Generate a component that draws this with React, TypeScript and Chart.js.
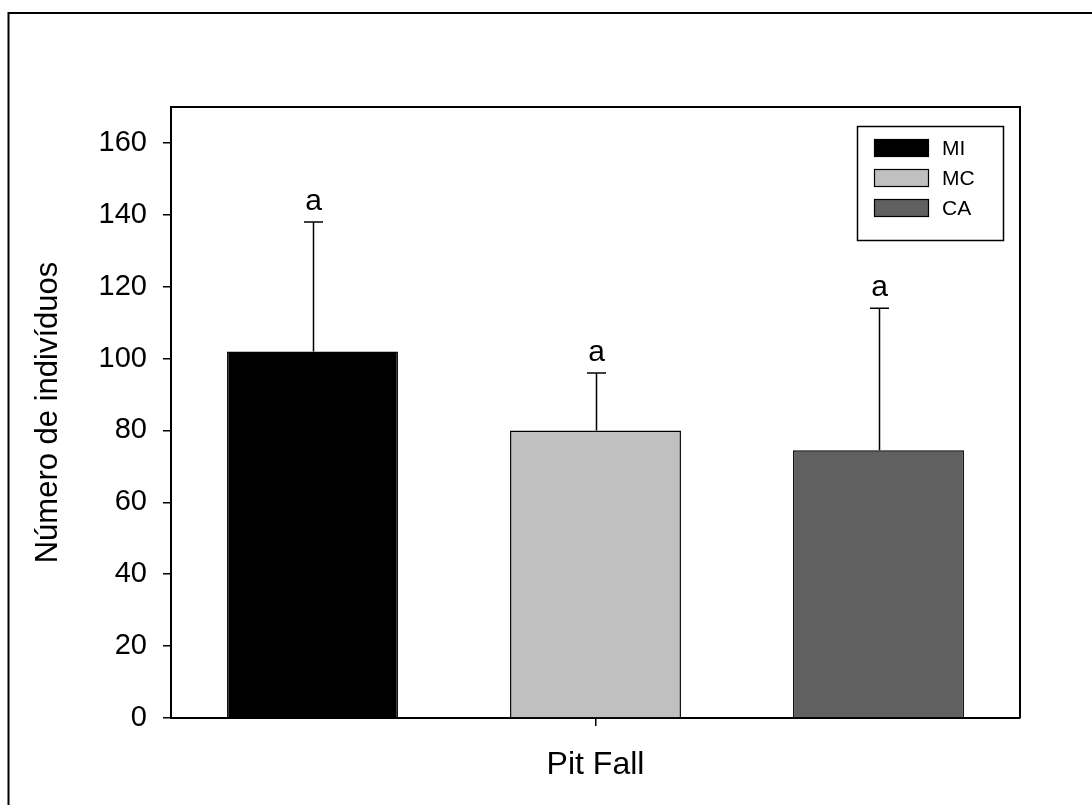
import React, { useEffect, useRef } from "react";
import { Chart, registerables } from "chart.js";

Chart.register(...registerables);

// ---- data ----
const categories = ["Pit Fall"];
const seriesLabels = ["MI", "MC", "CA"];
const seriesMeans = [102, 80, 74.5];
const seriesUpperErrors = [36, 16, 39.5];
const significanceLetters = ["a", "a", "a"];
const seriesColors = ["#000000", "#c0c0c0", "#606060"];
const yTickValues = [0, 20, 40, 60, 80, 100, 120, 140, 160];
const yAxisTitle = "Número de indivíduos";

const FONT = "'Liberation Sans', Arial, Helvetica, sans-serif";

const decorPlugin = {
  id: "decor",
  afterDatasetsDraw(chart: any) {
    const ctx = chart.ctx;
    const ys = chart.scales.y;
    const area = chart.chartArea;
    ctx.save();
    // error bars + letters
    chart.data.datasets.forEach((ds: any, i: number) => {
      const meta = chart.getDatasetMeta(i);
      meta.data.forEach((bar: any, j: number) => {
        const v = ds.data[j];
        const err = ds.upperErrors[j];
        const yTop = ys.getPixelForValue(v + err);
        const x = Math.round(bar.x) + 0.5;
        ctx.strokeStyle = "#000";
        ctx.lineWidth = 1.5;
        ctx.beginPath();
        ctx.moveTo(x, bar.y);
        ctx.lineTo(x, yTop);
        ctx.moveTo(x - 9.5, yTop);
        ctx.lineTo(x + 9.5, yTop);
        ctx.stroke();
        ctx.fillStyle = "#000";
        ctx.font = `30px ${FONT}`;
        ctx.textAlign = "center";
        ctx.textBaseline = "alphabetic";
        ctx.fillText(ds.letters[j], x, yTop - 12);
      });
    });
    // top and right frame
    ctx.strokeStyle = "#000";
    ctx.lineWidth = 2;
    ctx.beginPath();
    ctx.moveTo(area.left, area.top);
    ctx.lineTo(area.right, area.top);
    ctx.lineTo(area.right, area.bottom);
    ctx.stroke();
    // legend
    const lx = 857, ly = 126, lw = 146, lh = 114;
    ctx.lineWidth = 1.5;
    ctx.fillStyle = "#fff";
    ctx.fillRect(lx, ly, lw, lh);
    ctx.strokeRect(lx + 0.5, ly + 0.5, lw, lh);
    chart.data.datasets.forEach((ds: any, i: number) => {
      const sy = 139 + i * 30;
      ctx.fillStyle = ds.backgroundColor;
      ctx.fillRect(874, sy, 55, 18);
      ctx.strokeStyle = "#000";
      ctx.lineWidth = 1.2;
      ctx.strokeRect(874.5, sy + 0.5, 54, 17);
      ctx.fillStyle = "#000";
      ctx.font = `21px ${FONT}`;
      ctx.textAlign = "left";
      ctx.textBaseline = "middle";
      ctx.fillText(ds.label, 942, sy + 10);
    });
    // outer frame
    ctx.lineWidth = 2;
    ctx.beginPath();
    ctx.moveTo(8.5, chart.height);
    ctx.lineTo(8.5, 13);
    ctx.lineTo(chart.width, 13);
    ctx.stroke();
    ctx.restore();
  },
};

export default function App() {
  const ref = useRef<HTMLCanvasElement | null>(null);
  useEffect(() => {
    if (!ref.current) return;
    const chart = new Chart(ref.current, {
      type: "bar",
      data: {
        labels: categories,
        datasets: seriesLabels.map((label, i) => ({
          label,
          data: [seriesMeans[i]],
          upperErrors: [seriesUpperErrors[i]],
          letters: [significanceLetters[i]],
          backgroundColor: seriesColors[i],
          borderColor: "#000",
          borderWidth: 1.5,
          categoryPercentage: 1.0,
          barPercentage: 0.604,
        })) as any,
      },
      options: {
        responsive: false,
        animation: false,
        devicePixelRatio: 1,
        layout: { padding: { left: 0, top: 107, right: 72, bottom: 0 } },
        plugins: { legend: { display: false }, tooltip: { enabled: false } },
        scales: {
          x: {
            afterFit(scale: any) {
              scale.height = 87;
            },
            grid: {
              offset: false,
              drawOnChartArea: false,
              tickLength: 8,
              color: "#000",
              lineWidth: 1.5,
            },
            border: { display: true, color: "#000", width: 2 },
            ticks: {
              color: "#000",
              font: { family: FONT, size: 32 },
              padding: 20,
            },
          },
          y: {
            min: 0,
            max: 170,
            afterFit(scale: any) {
              scale.width = 171;
            },
            afterBuildTicks(scale: any) {
              scale.ticks = yTickValues.map((v) => ({ value: v }));
            },
            grid: {
              drawOnChartArea: false,
              tickLength: 8,
              color: "#000",
              lineWidth: 1.5,
            },
            border: { display: true, color: "#000", width: 2 },
            ticks: {
              color: "#000",
              font: { family: FONT, size: 29 },
              padding: 16,
            },
            title: {
              display: true,
              text: yAxisTitle,
              color: "#000",
              font: { family: FONT, size: 31 },
              padding: { top: 30, bottom: 0 },
            },
          },
        },
      },
      plugins: [decorPlugin],
    });
    return () => chart.destroy();
  }, []);
  return (
    <div style={{ position: "absolute", left: 0, top: 0, width: 1092, height: 805, background: "#fff" }}>
      <canvas ref={ref} width={1092} height={805} style={{ display: "block" }} />
    </div>
  );
}
